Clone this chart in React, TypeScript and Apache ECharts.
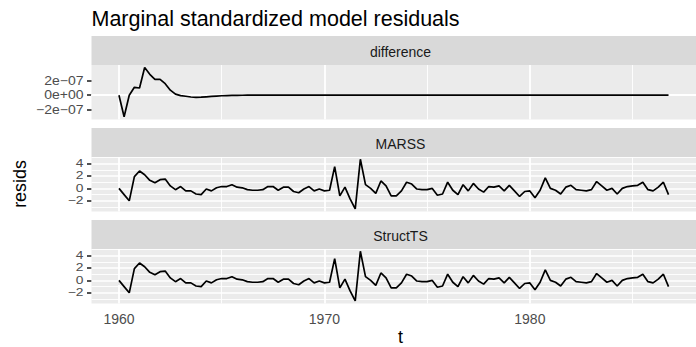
import React, { useEffect, useRef } from "react";
import * as echarts from "echarts";

// ---- data ----
const startYear = 1960;
const freq = 4;
const panelNames = ["difference", "MARSS", "StructTS"];

const difference = [
  0, -3.0e-7, 0.0, 1.1e-7, 1.0e-7, 3.85e-7, 2.9e-7, 2.2e-7, 2.2e-7, 1.6e-7,
  0.7e-7, 0.15e-7, -0.05e-7, -0.15e-7, -0.25e-7, -0.3e-7, -0.28e-7, -0.22e-7, -0.16e-7, -0.12e-7,
  -0.08e-7, -0.05e-7, -0.03e-7, -0.02e-7, -0.01e-7, 0, 0, 0, 0, 0,
  0, 0, 0, 0, 0, 0, 0, 0, 0, 0,
  0, 0, 0, 0, 0, 0, 0, 0, 0, 0,
  0, 0, 0, 0, 0, 0, 0, 0, 0, 0,
  0, 0, 0, 0, 0, 0, 0, 0, 0, 0,
  0, 0, 0, 0, 0, 0, 0, 0, 0, 0,
  0, 0, 0, 0, 0, 0, 0, 0, 0, 0,
  0, 0, 0, 0, 0, 0, 0, 0, 0, 0,
  0, 0, 0, 0, 0, 0, 0, 0,
];

const marss = [
  0.0, -1.0, -2.0, 1.9, 2.8, 2.2, 1.3, 0.9, 1.4, 1.5,
  0.4, -0.2, 0.3, -0.4, -0.4, -0.9, -1.0, -0.1, -0.4, 0.1,
  0.3, 0.3, 0.6, 0.2, 0.1, -0.2, -0.3, -0.3, -0.2, 0.3,
  0.3, -0.3, 0.2, 0.2, -0.5, -0.7, -0.1, 0.3, -0.4, -0.1,
  -0.4, -0.3, 3.5, -1.2, 0.2, -1.7, -3.3, 4.7, 0.6, 0.0,
  -0.8, 1.2, 0.4, -1.2, -1.2, -0.4, 1.0, 0.7, -0.1, -0.2,
  -0.2, 0.0, -1.1, -0.9, 1.0, -0.3, -1.0, 0.6, -0.4, 0.8,
  -0.1, -0.6, 0.3, 0.2, 0.4, -0.4, 0.5, -0.4, -1.3, -0.5,
  -0.4, -1.5, -0.3, 1.7, 0.0, -0.3, -0.9, 0.2, 0.5, -0.2,
  -0.3, -0.4, -0.2, 1.1, 0.4, -0.3, 0.0, -0.9, 0.0, 0.3,
  0.4, 0.5, 1.0, -0.2, -0.4, 0.2, 1.0, -1.0,
];

const structTS = [
  0.0, -1.0, -2.0, 1.9, 2.8, 2.2, 1.3, 0.9, 1.4, 1.5,
  0.4, -0.2, 0.3, -0.4, -0.4, -0.9, -1.0, -0.1, -0.4, 0.1,
  0.3, 0.3, 0.6, 0.2, 0.1, -0.2, -0.3, -0.3, -0.2, 0.3,
  0.3, -0.3, 0.2, 0.2, -0.5, -0.7, -0.1, 0.3, -0.4, -0.1,
  -0.4, -0.3, 3.5, -1.2, 0.2, -1.7, -3.3, 4.7, 0.6, 0.0,
  -0.8, 1.2, 0.4, -1.2, -1.2, -0.4, 1.0, 0.7, -0.1, -0.2,
  -0.2, 0.0, -1.1, -0.9, 1.0, -0.3, -1.0, 0.6, -0.4, 0.8,
  -0.1, -0.6, 0.3, 0.2, 0.4, -0.4, 0.5, -0.4, -1.3, -0.5,
  -0.4, -1.5, -0.3, 1.7, 0.0, -0.3, -0.9, 0.2, 0.5, -0.2,
  -0.3, -0.4, -0.2, 1.1, 0.4, -0.3, 0.0, -0.9, 0.0, 0.3,
  0.4, 0.5, 1.0, -0.2, -0.4, 0.2, 1.0, -1.0,
];

const xTicks = [1960, 1970, 1980];
const xMinor = [1965, 1975, 1985];
const diffTicks = [-2e-7, 0, 2e-7];
const diffTickLabels = ["\u22122e\u221207", "0e+00", "2e\u221207"];
const diffMinor = [-3e-7, -1e-7, 1e-7, 3e-7];
const residTicks = [-2, 0, 2, 4];
const residTickLabels = ["\u22122", "0", "2", "4"];
const residMinor = [-3, -1, 1, 3, 5];

const titleText = "Marginal standardized model residuals";
const xTitle = "t";
const yTitle = "resids";

// ---- layout / style ----
const FONT = "'Liberation Sans', Arial, Helvetica, sans-serif";
const LEFT = 91.5;
const PANEL_W = 618;
const STRIP_H = 29;
const gridTops = [65, 157, 249];
const gridH = 54.5;
const xRange = [1958.6625, 1988.0875];
const yRanges = [
  [-3.38e-7, 4.2e-7],
  [-3.72, 5.06],
  [-3.72, 5.06],
];
const yFont = [12.3, 10.6, 10.6];
const yScaleX = [1.14, 1.3, 1.3];
const LABEL_RIGHT = LEFT - 8;

export default function App() {
  const ref = useRef<HTMLDivElement>(null);
  useEffect(() => {
    if (!ref.current) return;
    const chart = echarts.init(ref.current, null, { renderer: "svg" });
    const t = marss.map((_, i) => startYear + i / freq);
    const seriesVals = [difference, marss, structTS];
    const ticksList = [diffTicks, residTicks, residTicks];
    const labelsList = [diffTickLabels, residTickLabels, residTickLabels];
    const minorList = [diffMinor, residMinor, residMinor];

    const grid = gridTops.map((top) => ({
      left: LEFT,
      right: 696 - LEFT - PANEL_W,
      top,
      height: gridH,
      show: true,
      backgroundColor: "#EBEBEB",
      borderWidth: 0,
    }));

    const xAxis = gridTops.map((_, gi) => ({
      gridIndex: gi,
      type: "value",
      min: xRange[0],
      max: xRange[1],
      axisLine: { show: false },
      splitLine: { show: false },
      axisTick: {
        show: gi === 2,
        length: 4.5,
        customValues: xTicks,
        lineStyle: { color: "#333333", width: 1.7 },
      },
      axisLabel: {
        show: gi === 2,
        customValues: xTicks,
        color: "#4D4D4D",
        fontSize: 14,
        fontFamily: FONT,
        margin: 8,
        formatter: (v: number) => String(Math.round(v)),
      },
    }));

    const yAxis = gridTops.map((_, gi) => ({
      gridIndex: gi,
      type: "value",
      min: yRanges[gi][0],
      max: yRanges[gi][1],
      axisLine: { show: false },
      splitLine: { show: false },
      axisTick: {
        show: true,
        length: 4.5,
        customValues: ticksList[gi],
        lineStyle: { color: "#333333", width: 1.7 },
      },
      axisLabel: { show: false },
    }));

    const white = (w: number) => ({ color: "#FFFFFF", width: w, type: "solid" });
    const series = gridTops.map((_, gi) => ({
      type: "line",
      xAxisIndex: gi,
      yAxisIndex: gi,
      data: t.map((x, i) => [x, seriesVals[gi][i]]),
      showSymbol: false,
      symbol: "none",
      lineStyle: { color: "#000000", width: 1.7 },
      z: 3,
      silent: true,
      markLine: {
        silent: true,
        z: 1,
        symbol: ["none", "none"],
        label: { show: false },
        emphasis: { disabled: true },
        data: [
          ...minorList[gi].map((v) => ({ yAxis: v, lineStyle: white(0.87) })),
          ...xMinor.map((v) => ({ xAxis: v, lineStyle: white(0.87) })),
          ...ticksList[gi].map((v) => ({ yAxis: v, lineStyle: white(1.73) })),
          ...xTicks.map((v) => ({ xAxis: v, lineStyle: white(1.73) })),
        ],
      },
    }));

    const graphic: any[] = [];
    gridTops.forEach((top, gi) => {
      graphic.push({
        type: "rect",
        shape: { x: LEFT, y: top - STRIP_H, width: PANEL_W, height: STRIP_H },
        style: { fill: "#D9D9D9" },
        silent: true,
      });
      graphic.push({
        type: "text",
        x: LEFT + PANEL_W / 2,
        y: top - STRIP_H / 2 + 1,
        style: {
          text: panelNames[gi],
          fill: "#1A1A1A",
          fontSize: 14,
          fontFamily: FONT,
          align: "center",
          verticalAlign: "middle",
        },
        silent: true,
      });
    });
    graphic.push({
      type: "text",
      x: LEFT,
      y: 19,
      style: {
        text: titleText,
        fill: "#000000",
        fontSize: 21.5,
        fontFamily: FONT,
        align: "left",
        verticalAlign: "middle",
      },
    });
    graphic.push({
      type: "text",
      x: LEFT + PANEL_W / 2,
      y: 337,
      style: {
        text: xTitle,
        fill: "#000000",
        fontSize: 17.9,
        fontFamily: FONT,
        align: "center",
        verticalAlign: "middle",
      },
    });
    graphic.push({
      type: "text",
      x: 20,
      y: 184,
      rotation: Math.PI / 2,
      style: {
        text: yTitle,
        fill: "#000000",
        fontSize: 17.9,
        fontFamily: FONT,
        align: "center",
        verticalAlign: "middle",
      },
    });

    chart.setOption({
      animation: false,
      backgroundColor: "#FFFFFF",
      grid,
      xAxis,
      yAxis,
      series,
      graphic,
    } as any);

    // y tick labels placed through the axes' own scales
    const tickLabels: any[] = [];
    gridTops.forEach((_, gi) => {
      ticksList[gi].forEach((v, k) => {
        const py = chart.convertToPixel({ yAxisIndex: gi } as any, v) as number;
        tickLabels.push({
          type: "text",
          x: LABEL_RIGHT,
          y: py,
          scaleX: yScaleX[gi],
          silent: true,
          style: {
            text: labelsList[gi][k],
            fill: "#4D4D4D",
            fontSize: yFont[gi],
            fontFamily: FONT,
            align: "right",
            verticalAlign: "middle",
          },
        });
      });
    });
    chart.setOption({ graphic: [...graphic, ...tickLabels] } as any);
    return () => chart.dispose();
  }, []);
  return (
    <div
      ref={ref}
      style={{ position: "fixed", left: 0, top: 0, width: 696, height: 347, background: "#fff" }}
    />
  );
}
